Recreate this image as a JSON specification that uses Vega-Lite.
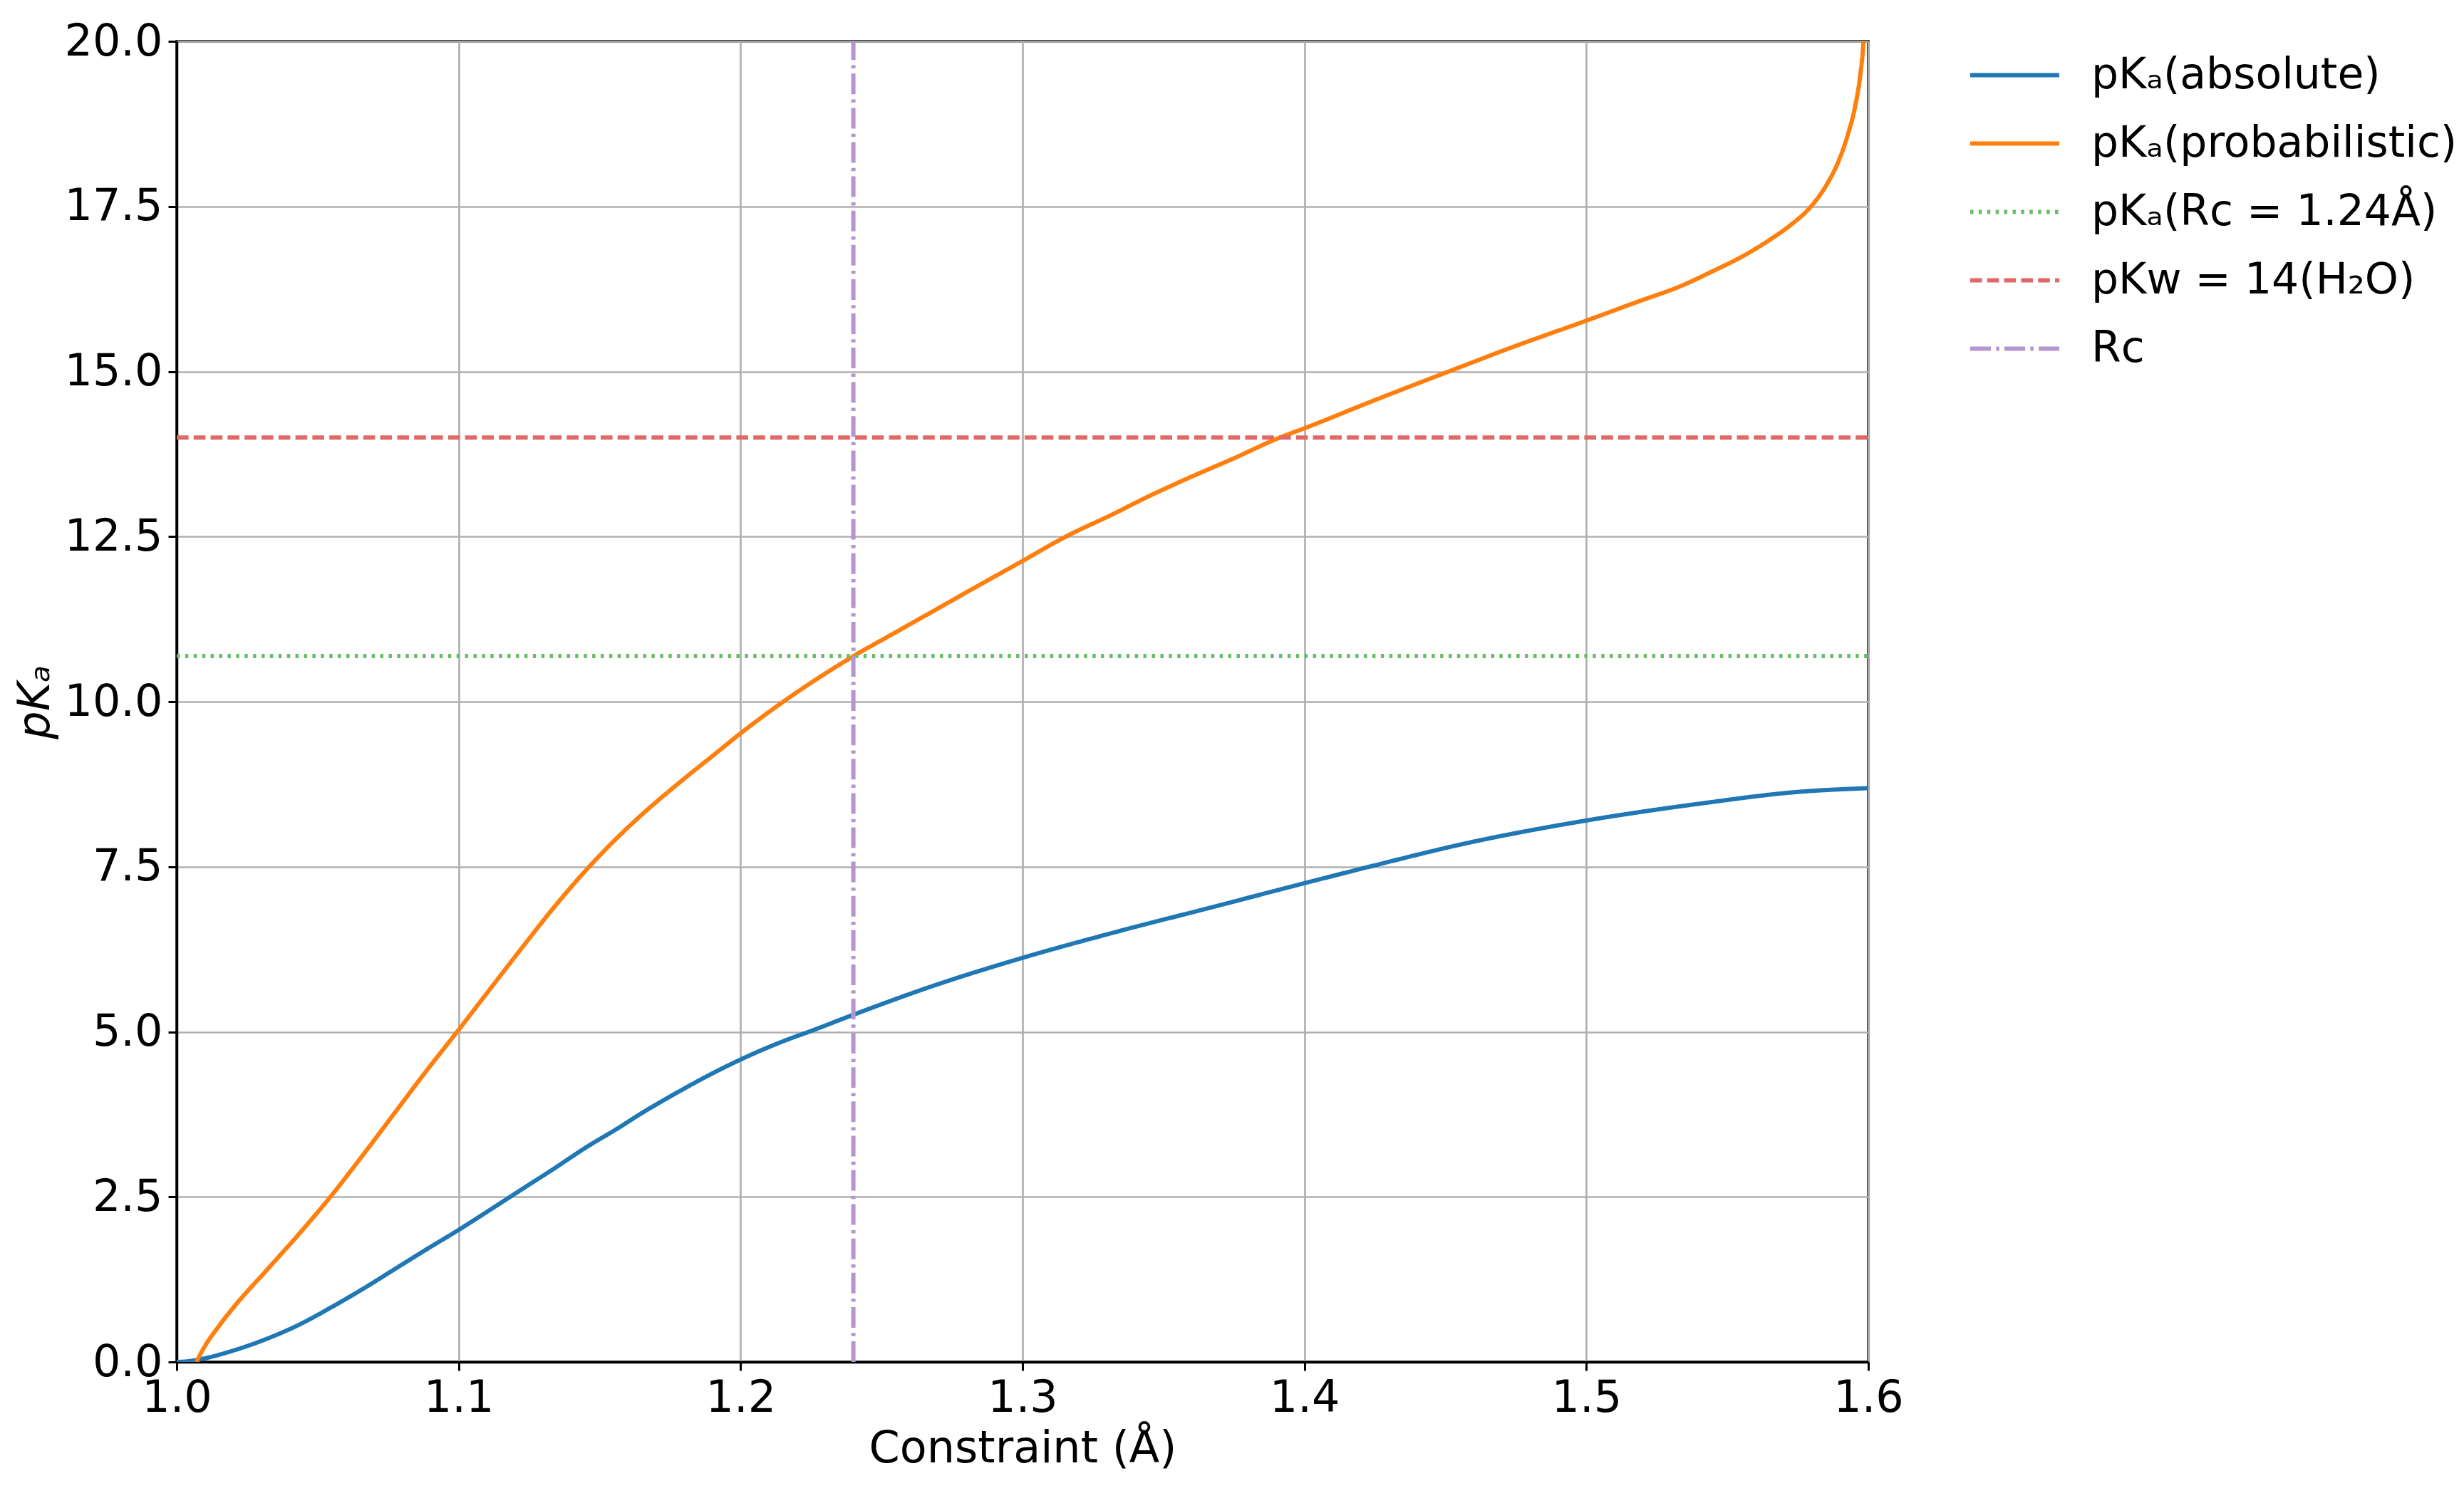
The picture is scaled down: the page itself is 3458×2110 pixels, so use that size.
{
  "$schema": "https://vega.github.io/schema/vega-lite/v6.json",
  "autosize": {"type": "none"},
  "width": 2374,
  "height": 1854,
  "padding": {"left": 248, "top": 58, "right": 836, "bottom": 198},
  "background": "white",
  "config": {
    "font": "DejaVu Sans",
    "view": {"stroke": "black", "strokeWidth": 3.5},
    "axis": {
      "labelFont": "DejaVu Sans", "labelFontSize": 62, "labelColor": "black", "labelFlush": false,
      "titleFont": "DejaVu Sans", "titleFontSize": 62, "titleColor": "black", "titleFontWeight": "normal",
      "domainColor": "black", "domainWidth": 3.5,
      "tickColor": "black", "tickWidth": 3, "tickSize": 12,
      "gridColor": "#b0b0b0", "gridWidth": 2.7, "gridOpacity": 1,
      "labelPadding": 8
    },
    "legend": {
      "labelFont": "DejaVu Sans", "labelFontSize": 60, "labelColor": "black", "labelLimit": 900
    }
  },
  "data": {
    "values": [
      {"s": "pKₐ(absolute)", "x": 1.0, "y": 0},
      {"s": "pKₐ(absolute)", "x": 1.004, "y": 0.01},
      {"s": "pKₐ(absolute)", "x": 1.007, "y": 0.03},
      {"s": "pKₐ(absolute)", "x": 1.0206, "y": 0.18},
      {"s": "pKₐ(absolute)", "x": 1.0319, "y": 0.35},
      {"s": "pKₐ(absolute)", "x": 1.0432, "y": 0.56},
      {"s": "pKₐ(absolute)", "x": 1.0545, "y": 0.82},
      {"s": "pKₐ(absolute)", "x": 1.0658, "y": 1.1},
      {"s": "pKₐ(absolute)", "x": 1.0771, "y": 1.4},
      {"s": "pKₐ(absolute)", "x": 1.0884, "y": 1.7},
      {"s": "pKₐ(absolute)", "x": 1.1, "y": 2.0},
      {"s": "pKₐ(absolute)", "x": 1.111, "y": 2.3},
      {"s": "pKₐ(absolute)", "x": 1.1226, "y": 2.62},
      {"s": "pKₐ(absolute)", "x": 1.1339, "y": 2.93},
      {"s": "pKₐ(absolute)", "x": 1.1452, "y": 3.25},
      {"s": "pKₐ(absolute)", "x": 1.1565, "y": 3.54},
      {"s": "pKₐ(absolute)", "x": 1.165, "y": 3.77},
      {"s": "pKₐ(absolute)", "x": 1.1779, "y": 4.09},
      {"s": "pKₐ(absolute)", "x": 1.19, "y": 4.37},
      {"s": "pKₐ(absolute)", "x": 1.2, "y": 4.58},
      {"s": "pKₐ(absolute)", "x": 1.2165, "y": 4.88},
      {"s": "pKₐ(absolute)", "x": 1.2242, "y": 5.0},
      {"s": "pKₐ(absolute)", "x": 1.2401, "y": 5.26},
      {"s": "pKₐ(absolute)", "x": 1.2679, "y": 5.69},
      {"s": "pKₐ(absolute)", "x": 1.3, "y": 6.12},
      {"s": "pKₐ(absolute)", "x": 1.3321, "y": 6.5},
      {"s": "pKₐ(absolute)", "x": 1.3666, "y": 6.88},
      {"s": "pKₐ(absolute)", "x": 1.4, "y": 7.25},
      {"s": "pKₐ(absolute)", "x": 1.423, "y": 7.5},
      {"s": "pKₐ(absolute)", "x": 1.4579, "y": 7.86},
      {"s": "pKₐ(absolute)", "x": 1.5, "y": 8.2},
      {"s": "pKₐ(absolute)", "x": 1.5411, "y": 8.46},
      {"s": "pKₐ(absolute)", "x": 1.5742, "y": 8.63},
      {"s": "pKₐ(absolute)", "x": 1.6, "y": 8.69},
      {"s": "pKₐ(probabilistic)", "x": 1.007, "y": 0},
      {"s": "pKₐ(probabilistic)", "x": 1.0093, "y": 0.19},
      {"s": "pKₐ(probabilistic)", "x": 1.0149, "y": 0.54},
      {"s": "pKₐ(probabilistic)", "x": 1.0206, "y": 0.85},
      {"s": "pKₐ(probabilistic)", "x": 1.0319, "y": 1.39},
      {"s": "pKₐ(probabilistic)", "x": 1.0432, "y": 1.93},
      {"s": "pKₐ(probabilistic)", "x": 1.0545, "y": 2.5},
      {"s": "pKₐ(probabilistic)", "x": 1.0658, "y": 3.12},
      {"s": "pKₐ(probabilistic)", "x": 1.0771, "y": 3.76},
      {"s": "pKₐ(probabilistic)", "x": 1.0884, "y": 4.4},
      {"s": "pKₐ(probabilistic)", "x": 1.1, "y": 5.03},
      {"s": "pKₐ(probabilistic)", "x": 1.111, "y": 5.64},
      {"s": "pKₐ(probabilistic)", "x": 1.1226, "y": 6.28},
      {"s": "pKₐ(probabilistic)", "x": 1.1339, "y": 6.89},
      {"s": "pKₐ(probabilistic)", "x": 1.1463, "y": 7.5},
      {"s": "pKₐ(probabilistic)", "x": 1.1565, "y": 7.95},
      {"s": "pKₐ(probabilistic)", "x": 1.165, "y": 8.29},
      {"s": "pKₐ(probabilistic)", "x": 1.1779, "y": 8.76},
      {"s": "pKₐ(probabilistic)", "x": 1.1907, "y": 9.2},
      {"s": "pKₐ(probabilistic)", "x": 1.2, "y": 9.52},
      {"s": "pKₐ(probabilistic)", "x": 1.2165, "y": 10.04},
      {"s": "pKₐ(probabilistic)", "x": 1.2401, "y": 10.69},
      {"s": "pKₐ(probabilistic)", "x": 1.255, "y": 11.05},
      {"s": "pKₐ(probabilistic)", "x": 1.2679, "y": 11.36},
      {"s": "pKₐ(probabilistic)", "x": 1.2807, "y": 11.67},
      {"s": "pKₐ(probabilistic)", "x": 1.3, "y": 12.13},
      {"s": "pKₐ(probabilistic)", "x": 1.3154, "y": 12.5},
      {"s": "pKₐ(probabilistic)", "x": 1.3321, "y": 12.84},
      {"s": "pKₐ(probabilistic)", "x": 1.3443, "y": 13.1},
      {"s": "pKₐ(probabilistic)", "x": 1.358, "y": 13.37},
      {"s": "pKₐ(probabilistic)", "x": 1.3747, "y": 13.68},
      {"s": "pKₐ(probabilistic)", "x": 1.3913, "y": 14.0},
      {"s": "pKₐ(probabilistic)", "x": 1.4, "y": 14.14},
      {"s": "pKₐ(probabilistic)", "x": 1.4246, "y": 14.56},
      {"s": "pKₐ(probabilistic)", "x": 1.4512, "y": 15.0},
      {"s": "pKₐ(probabilistic)", "x": 1.4745, "y": 15.38},
      {"s": "pKₐ(probabilistic)", "x": 1.5, "y": 15.77},
      {"s": "pKₐ(probabilistic)", "x": 1.5178, "y": 16.05},
      {"s": "pKₐ(probabilistic)", "x": 1.5344, "y": 16.31},
      {"s": "pKₐ(probabilistic)", "x": 1.5439, "y": 16.5},
      {"s": "pKₐ(probabilistic)", "x": 1.5565, "y": 16.77},
      {"s": "pKₐ(probabilistic)", "x": 1.5649, "y": 16.99},
      {"s": "pKₐ(probabilistic)", "x": 1.5725, "y": 17.22},
      {"s": "pKₐ(probabilistic)", "x": 1.5797, "y": 17.5},
      {"s": "pKₐ(probabilistic)", "x": 1.5851, "y": 17.82},
      {"s": "pKₐ(probabilistic)", "x": 1.5894, "y": 18.18},
      {"s": "pKₐ(probabilistic)", "x": 1.5927, "y": 18.58},
      {"s": "pKₐ(probabilistic)", "x": 1.5953, "y": 19.01},
      {"s": "pKₐ(probabilistic)", "x": 1.597, "y": 19.44},
      {"s": "pKₐ(probabilistic)", "x": 1.5982, "y": 19.94},
      {"s": "pKₐ(probabilistic)", "x": 1.5988, "y": 20.4},
      {"s": "pKₐ(Rc = 1.24Å)", "x": 1.0, "y": 10.69},
      {"s": "pKₐ(Rc = 1.24Å)", "x": 1.6, "y": 10.69},
      {"s": "pKw = 14(H₂O)", "x": 1.0, "y": 14.0},
      {"s": "pKw = 14(H₂O)", "x": 1.6, "y": 14.0},
      {"s": "Rc", "x": 1.24, "y": 0},
      {"s": "Rc", "x": 1.24, "y": 20}
    ]
  },
  "mark": {"type": "line", "clip": true, "interpolate": "monotone"},
  "encoding": {
    "x": {
      "field": "x", "type": "quantitative",
      "scale": {"domain": [1.0, 1.6], "nice": false, "zero": false},
      "axis": {"values": [1.0, 1.1, 1.2, 1.3, 1.4, 1.5, 1.6], "format": ".1f", "title": "Constraint (Å)", "titlePadding": 10}
    },
    "y": {
      "field": "y", "type": "quantitative",
      "scale": {"domain": [0, 20], "nice": false},
      "axis": {"values": [0, 2.5, 5, 7.5, 10, 12.5, 15, 17.5, 20], "format": ".1f", "title": "pKₐ", "titleFontStyle": "italic", "titlePadding": 8}
    },
    "color": {
      "field": "s", "type": "nominal",
      "scale": {
        "domain": ["pKₐ(absolute)", "pKₐ(probabilistic)", "pKₐ(Rc = 1.24Å)", "pKw = 14(H₂O)", "Rc"],
        "range": ["#1f77b4", "#ff7f0e", "#6bbc6b", "#e26868", "#b495d1"]
      },
      "legend": {
        "title": null, "orient": "none", "legendX": 2514, "legendY": -18,
        "symbolType": "stroke", "symbolSize": 15625, "labelOffset": 42, "rowPadding": -1
      }
    },
    "strokeDash": {
      "field": "s", "type": "nominal",
      "scale": {
        "domain": ["pKₐ(absolute)", "pKₐ(probabilistic)", "pKₐ(Rc = 1.24Å)", "pKw = 14(H₂O)", "Rc"],
        "range": [[1, 0], [1, 0], [4.5, 7.4], [16.6, 7.2], [29, 7.3, 4.5, 7.3]]
      },
      "legend": {
        "title": null, "orient": "none", "legendX": 2514, "legendY": -18,
        "symbolType": "stroke", "symbolSize": 15625, "labelOffset": 42, "rowPadding": -1
      }
    },
    "strokeWidth": {
      "field": "s", "type": "nominal",
      "scale": {
        "domain": ["pKₐ(absolute)", "pKₐ(probabilistic)", "pKₐ(Rc = 1.24Å)", "pKw = 14(H₂O)", "Rc"],
        "range": [6, 6, 4.5, 4.5, 4.5]
      },
      "legend": {
        "title": null, "orient": "none", "legendX": 2514, "legendY": -18,
        "symbolType": "stroke", "symbolSize": 15625, "labelOffset": 42, "rowPadding": -1
      }
    }
  }
}
